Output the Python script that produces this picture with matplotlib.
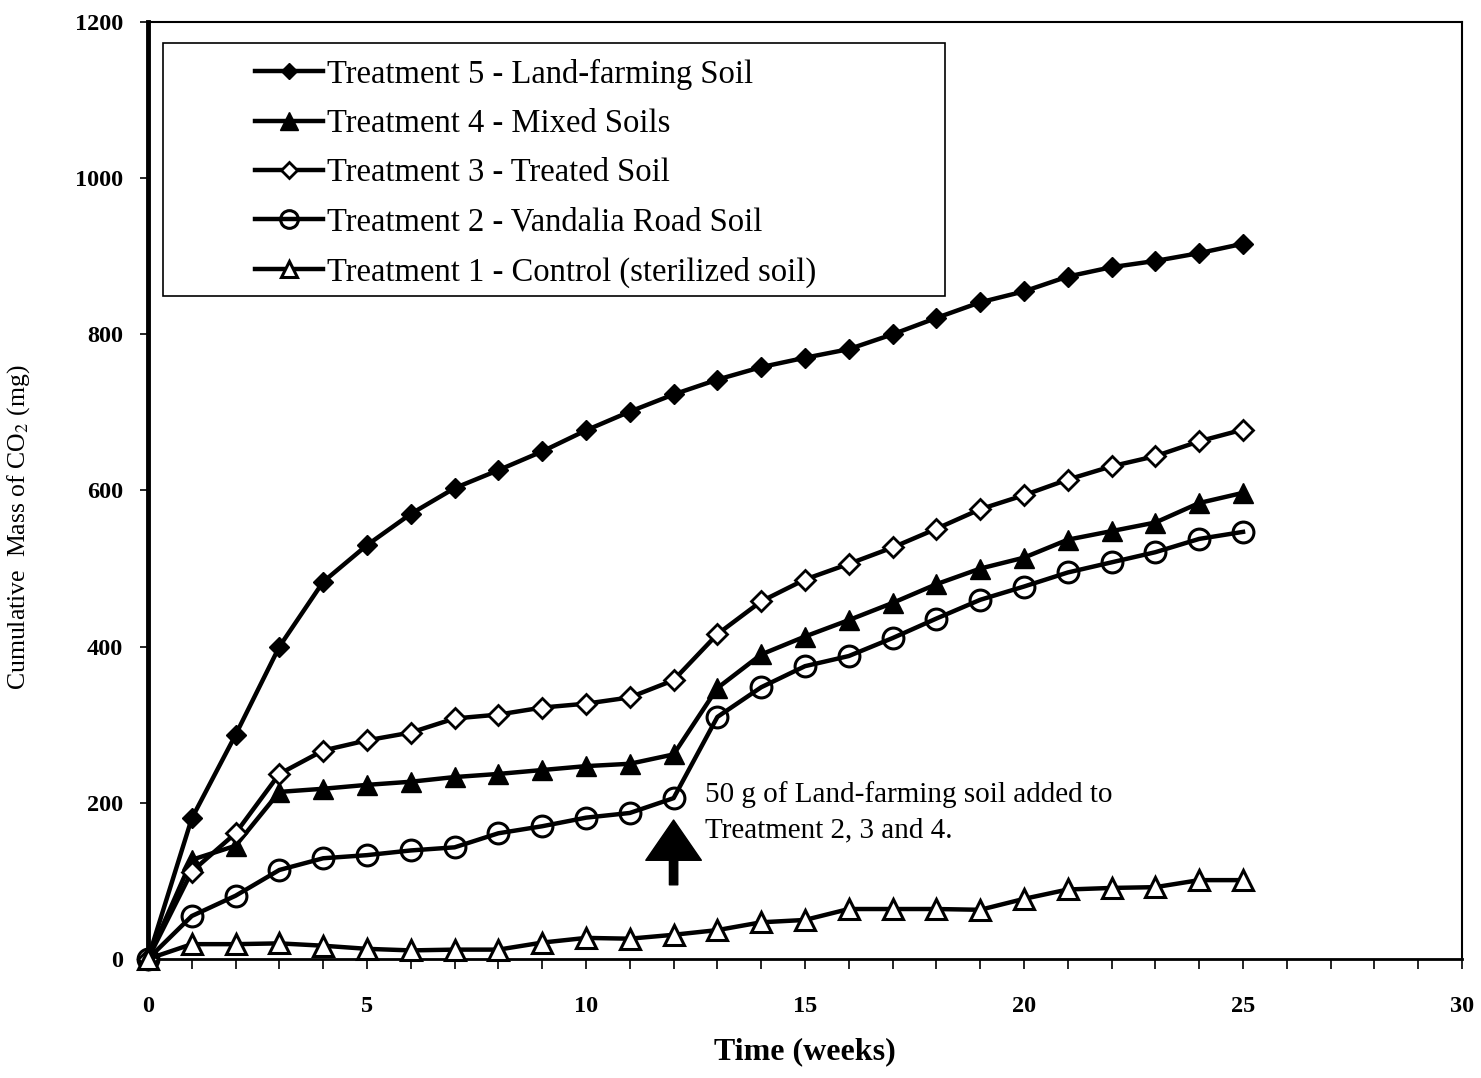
import matplotlib
matplotlib.use("Agg")
import matplotlib.pyplot as plt
from matplotlib.patches import Rectangle
from matplotlib.ticker import MultipleLocator

plt.rcParams['font.family'] = ['Liberation Serif', 'DejaVu Serif']
plt.rcParams['mathtext.fontset'] = 'stix'

weeks = list(range(26))
t5_landfarm = [0, 180, 287, 400, 483, 530, 570, 603, 626, 650, 677, 701, 723, 742, 758,
               770, 781, 800, 821, 841, 855, 874, 886, 894, 904, 916]
t4_mixed = [0, 127, 145, 214, 218, 223, 227, 233, 237, 242, 247, 250, 262, 347, 390,
            413, 434, 456, 480, 500, 514, 537, 548, 559, 584, 597]
t3_treated = [0, 112, 161, 237, 267, 280, 290, 308, 313, 322, 327, 335, 357, 416, 458,
              486, 506, 527, 551, 576, 594, 614, 631, 644, 663, 678]
t2_vandalia = [0, 55, 81, 114, 129, 133, 139, 143, 161, 170, 181, 187, 206, 310, 348,
               375, 388, 411, 436, 460, 477, 495, 508, 521, 538, 547]
t1_control = [0, 19, 19, 20, 17, 13, 11, 12, 12, 21, 27, 26, 31, 37, 47, 50, 64, 64,
              64, 63, 77, 89, 91, 92, 101, 101]

labels = ["Treatment 5 - Land-farming Soil",
          "Treatment 4 - Mixed Soils",
          "Treatment 3 - Treated Soil",
          "Treatment 2 - Vandalia Road Soil",
          "Treatment 1 - Control (sterilized soil)"]

fig = plt.figure(figsize=(14.81, 10.78), dpi=100)
ax = fig.add_axes([0.0999, 0.1104, 0.8873, 0.8692])

lw = 3.2
styles = [
    (t5_landfarm, dict(marker='D', ms=10, mfc='black', mec='black')),
    (t4_mixed, dict(marker='^', ms=15, mfc='black', mec='black')),
    (t3_treated, dict(marker='D', ms=10, mfc='white', mec='black', mew=2)),
    (t2_vandalia, dict(marker='o', ms=15, mfc='none', mec='black', mew=2.2)),
    (t1_control, dict(marker='^', ms=14, mfc='white', mec='black', mew=2.2)),
]
handles = []
for (vals, st), lab in zip(styles, labels):
    h, = ax.plot(weeks, vals, color='black', lw=lw, label=lab, clip_on=False, zorder=3, **st)
    handles.append(h)

ax.set_xlim(0, 30)
ax.set_ylim(0, 1200)
ax.xaxis.set_major_locator(MultipleLocator(5))
ax.xaxis.set_minor_locator(MultipleLocator(1))
ax.yaxis.set_major_locator(MultipleLocator(200))
ax.tick_params(axis='x', which='both', direction='out', length=7, width=1.2, pad=20)
ax.tick_params(axis='y', which='major', direction='out', length=6, width=1.2, pad=12)
for lab in ax.get_xticklabels() + ax.get_yticklabels():
    lab.set_fontsize(17.5)
    lab.set_fontweight('bold')

ax.spines['left'].set_linewidth(3.5)
ax.spines['bottom'].set_linewidth(2)
ax.spines['top'].set_linewidth(1.5)
ax.spines['right'].set_linewidth(1.5)

ax.set_xlabel("Time (weeks)", fontsize=23, fontweight='bold', labelpad=14)
ax.set_ylabel("Cumulative  Mass of CO$_2$ (mg)", fontsize=18.5)
ax.yaxis.set_label_coords(-0.088, 0.461)

# legend box drawn separately so the entries can sit well inside it
ax.add_patch(Rectangle((0.0114, 0.7076), 0.5951, 0.27, transform=ax.transAxes,
                       fill=False, edgecolor='black', lw=1.2, zorder=4))
leg = ax.legend(handles=handles, loc='upper left', bbox_to_anchor=(0.0814, 0.961),
                frameon=False, fontsize=23.5, borderpad=0, borderaxespad=0,
                handlelength=2.1, handletextpad=0.1, labelspacing=0.58, markerscale=0.85)

ax.annotate("", xy=(12, 178), xytext=(12, 95),
            arrowprops=dict(arrowstyle="simple,head_width=2.0,head_length=1.45,tail_width=0.3",
                            color='black', mutation_scale=20, shrinkA=0, shrinkB=0))
ax.text(12.72, 228, "50 g of Land-farming soil added to\nTreatment 2, 3 and 4.",
        fontsize=21, va='top', ha='left', linespacing=1.45)

fig.savefig("out.png", dpi=100)
